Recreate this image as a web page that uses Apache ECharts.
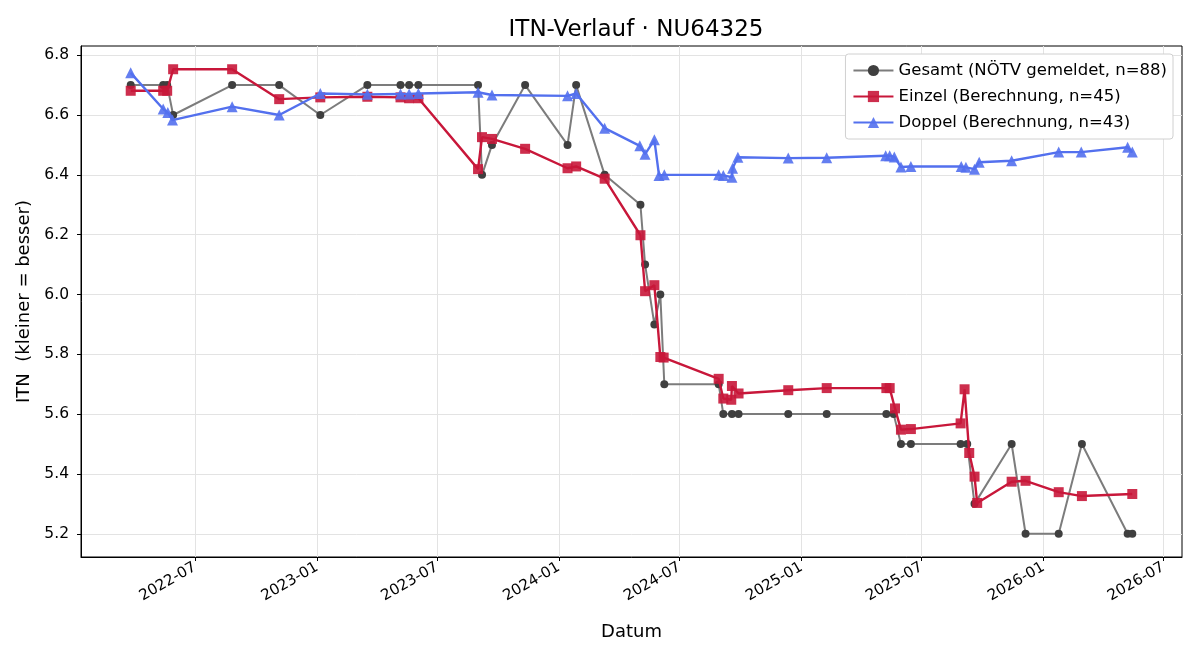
<!DOCTYPE html>
<html>
<head>
<meta charset="utf-8">
<script src="https://cdn.jsdelivr.net/npm/echarts@6/dist/echarts.min.js"></script>
<style>
  html, body { margin: 0; padding: 0; background: #fff; }
  #itn { width: 1200px; height: 660px; }
</style>
</head>
<body>
<div id="itn"></div>
<script>
var echart_itn = echarts.init(document.getElementById('itn'));

// Gesamt (NÖTV gemeldet)
var gesamt_dates = ['2022-03-26','2022-05-14','2022-05-20','2022-05-29','2022-08-26','2022-11-05','2023-01-06','2023-03-18','2023-05-07','2023-05-20','2023-06-03','2023-09-01','2023-09-07','2023-09-22','2023-11-11','2024-01-14','2024-01-27','2024-03-10','2024-05-03','2024-05-10','2024-05-24','2024-06-02','2024-06-08','2024-08-29','2024-09-05','2024-09-18','2024-09-28','2024-12-12','2025-02-08','2025-05-09','2025-05-20','2025-05-31','2025-06-15','2025-08-29','2025-09-08','2025-09-19','2025-11-14','2025-12-05','2026-01-24','2026-02-28','2026-05-08','2026-05-15'];
var gesamt_vals = [6.7,6.7,6.7,6.6,6.7,6.7,6.6,6.7,6.7,6.7,6.7,6.7,6.4,6.5,6.7,6.5,6.7,6.4,6.3,6.1,5.9,6.0,5.7,5.7,5.6,5.6,5.6,5.6,5.6,5.6,5.6,5.5,5.5,5.5,5.5,5.3,5.5,5.2,5.2,5.5,5.2,5.2];

// Einzel (Berechnung)
var einzel_dates = ['2022-03-26','2022-05-14','2022-05-20','2022-05-29','2022-08-26','2022-11-05','2023-01-06','2023-03-18','2023-05-07','2023-05-20','2023-06-03','2023-09-01','2023-09-07','2023-09-22','2023-11-11','2024-01-14','2024-01-27','2024-03-10','2024-05-03','2024-05-10','2024-05-24','2024-06-02','2024-06-07','2024-08-29','2024-09-05','2024-09-17','2024-09-18','2024-09-28','2024-12-12','2025-02-08','2025-05-09','2025-05-14','2025-05-22','2025-05-31','2025-06-15','2025-08-29','2025-09-04','2025-09-11','2025-09-19','2025-09-23','2025-11-14','2025-12-05','2026-01-24','2026-02-28','2026-05-15'];
var einzel_vals = [6.681,6.681,6.681,6.753,6.753,6.653,6.659,6.661,6.659,6.656,6.656,6.419,6.526,6.520,6.487,6.422,6.428,6.387,6.198,6.011,6.031,5.791,5.789,5.718,5.652,5.648,5.694,5.669,5.680,5.687,5.687,5.687,5.619,5.548,5.550,5.569,5.683,5.470,5.391,5.303,5.374,5.377,5.339,5.326,5.333];

// Doppel (Berechnung)
var doppel_dates = ['2022-03-26','2022-05-14','2022-05-21','2022-05-28','2022-08-26','2022-11-05','2023-01-06','2023-03-18','2023-05-07','2023-05-20','2023-06-03','2023-09-01','2023-09-22','2024-01-14','2024-01-27','2024-03-10','2024-05-02','2024-05-10','2024-05-24','2024-05-31','2024-06-08','2024-08-29','2024-09-05','2024-09-18','2024-09-19','2024-09-27','2024-12-12','2025-02-08','2025-05-08','2025-05-14','2025-05-21','2025-05-31','2025-06-15','2025-08-30','2025-09-06','2025-09-19','2025-09-26','2025-11-14','2026-01-24','2026-02-27','2026-05-08','2026-05-15'];
var doppel_vals = [6.741,6.620,6.608,6.583,6.628,6.600,6.672,6.669,6.670,6.670,6.672,6.676,6.667,6.664,6.672,6.556,6.497,6.469,6.517,6.398,6.400,6.400,6.398,6.392,6.422,6.459,6.456,6.457,6.464,6.464,6.460,6.426,6.428,6.428,6.425,6.419,6.442,6.447,6.476,6.476,6.492,6.476];

var x_ticks = ['2022-07-01','2023-01-01','2023-07-01','2024-01-01','2024-07-01','2025-01-01','2025-07-01','2026-01-01','2026-07-01'];
var y_ticks = [5.2,5.4,5.6,5.8,6.0,6.2,6.4,6.6,6.8];

var FONT = 'DejaVu Sans';

function ts(s) { return +echarts.time.parse(s); }
function pairs(dates, vals) {
    var out = [];
    for (var i = 0; i < dates.length; i++) out.push([ts(dates[i]), vals[i]]);
    return out;
}

var x_tick_ts = x_ticks.map(ts);

var option_itn = {
    animation: false,
    backgroundColor: '#fff',
    title: {
        text: 'ITN-Verlauf · NU64325',
        left: 631,
        textAlign: 'center',
        top: 14,
        textStyle: { fontFamily: FONT, fontSize: 23, fontWeight: 'normal', color: '#000' }
    },
    legend: {
        orient: 'vertical',
        right: 27,
        top: 54,
        padding: [8, 6, 8, 7],
        itemWidth: 40,
        itemHeight: 14,
        itemGap: 9,
        backgroundColor: '#fff',
        borderColor: '#d0d0d0',
        borderWidth: 1,
        borderRadius: 3,
        textStyle: { fontFamily: FONT, fontSize: 16.5, color: '#000' }
    },
    grid: {
        left: 81, right: 18, top: 46, bottom: 103,
        show: true, borderColor: '#000', borderWidth: 1
    },
    xAxis: {
        type: 'value',
        min: ts('2022-01-10'),
        max: ts('2026-07-29'),
        name: 'Datum',
        nameLocation: 'middle',
        nameGap: 66,
        nameTextStyle: { fontFamily: FONT, fontSize: 18, color: '#000' },
        axisLine: { show: true, onZero: false, lineStyle: { color: '#000' } },
        axisTick: { show: true, length: 4, customValues: x_tick_ts, lineStyle: { color: '#000' } },
        axisLabel: {
            customValues: x_tick_ts,
            rotate: 30,
            margin: 9,
            fontFamily: FONT, fontSize: 15, color: '#000',
            formatter: function (v) { return echarts.time.format(v, '{yyyy}-{MM}', false); }
        },
        splitLine: { show: true, lineStyle: { color: '#e3e3e3' } }
    },
    yAxis: {
        type: 'value',
        min: 5.1223,
        max: 6.8307,
        name: 'ITN  (kleiner = besser)',
        nameLocation: 'middle',
        nameGap: 46,
        nameTextStyle: { fontFamily: FONT, fontSize: 18, color: '#000' },
        axisLine: { show: true, lineStyle: { color: '#000' } },
        axisTick: { show: true, length: 4, customValues: y_ticks, lineStyle: { color: '#000' } },
        axisLabel: {
            customValues: y_ticks,
            margin: 12,
            fontFamily: FONT, fontSize: 15.5, color: '#000',
            formatter: function (v) { return v.toFixed(1); }
        },
        splitLine: { show: true, lineStyle: { color: '#e3e3e3' } }
    },
    series: [
        {
            name: 'Gesamt (NÖTV gemeldet, n=88)',
            type: 'line',
            data: pairs(gesamt_dates, gesamt_vals),
            symbol: 'circle',
            symbolSize: 8,
            showAllSymbol: true,
            lineStyle: { color: '#7c7c7c', width: 2 },
            itemStyle: { color: '#3f3f3f' },
            z: 2
        },
        {
            name: 'Einzel (Berechnung, n=45)',
            type: 'line',
            data: pairs(einzel_dates, einzel_vals),
            symbol: 'rect',
            symbolSize: 10,
            showAllSymbol: true,
            lineStyle: { color: '#c8173a', width: 2.4 },
            itemStyle: { color: '#c8173a', opacity: 0.9 },
            z: 3
        },
        {
            name: 'Doppel (Berechnung, n=43)',
            type: 'line',
            data: pairs(doppel_dates, doppel_vals),
            symbol: 'triangle',
            symbolSize: 11,
            showAllSymbol: true,
            lineStyle: { color: '#5370ee', width: 2.4 },
            itemStyle: { color: '#5370ee', opacity: 0.9 },
            z: 4
        }
    ]
};

echart_itn.setOption(option_itn);
</script>
</body>
</html>
